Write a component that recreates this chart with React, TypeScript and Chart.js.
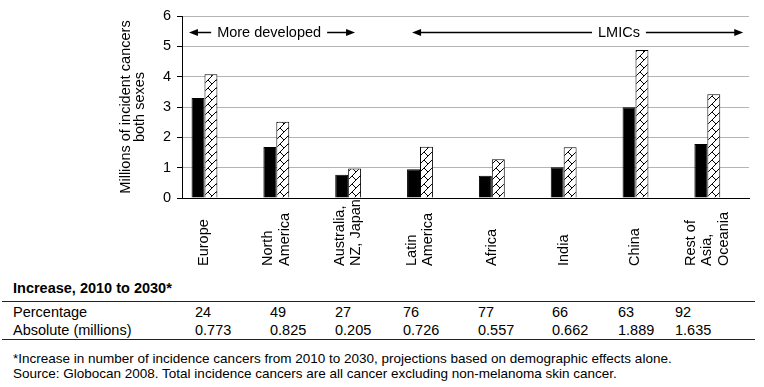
import React, { useEffect, useRef } from 'react';
import { Chart, registerables } from 'chart.js';

Chart.register(...registerables);

// ---- data ----
const categories: string[][] = [
  ['Europe'],
  ['North', 'America'],
  ['Australia,', 'NZ, Japan'],
  ['Latin', 'America'],
  ['Africa'],
  ['India'],
  ['China'],
  ['Rest of', 'Asia,', 'Oceania'],
];
const values2010 = [3.3, 1.68, 0.77, 0.95, 0.73, 1.01, 2.99, 1.78];
const values2030 = [4.08, 2.51, 0.97, 1.69, 1.28, 1.67, 4.88, 3.42];
const yTicks = [0, 1, 2, 3, 4, 5, 6];
const percentageRow = ['24', '49', '27', '76', '77', '66', '63', '92'];
const absoluteRow = ['0.773', '0.825', '0.205', '0.726', '0.557', '0.662', '1.889', '1.635'];
const yTitle = ['Millions of incident cancers', 'both sexes'];
const tableTitle = 'Increase, 2010 to 2030*';
const rowLabels = ['Percentage', 'Absolute (millions)'];
const footnotes = [
  '*Increase in number of incidence cancers from 2010 to 2030, projections based on demographic effects alone.',
  'Source: Globocan 2008. Total incidence cancers are all cancer excluding non-melanoma skin cancer.',
];
const groupSpans = [
  { label: 'More developed', from: -0.216, to: 2.096, labelAt: 0.9 },
  { label: 'LMICs', from: 2.89, to: 7.5, labelAt: 5.77 },
];
const spanLevel = 5.47;

// ---- layout ----
const FONT = '"Liberation Sans", Arial, Helvetica, sans-serif';
const CANVAS_W = 764;
const CANVAS_H = 280;
const colLefts = [195, 270, 335, 403, 478, 552, 618, 675];

function makeHatch(ctx: CanvasRenderingContext2D) {
  const c = document.createElement('canvas');
  c.width = 8;
  c.height = 8;
  const g = c.getContext('2d')!;
  g.fillStyle = '#fff';
  g.fillRect(0, 0, 8, 8);
  g.strokeStyle = '#000';
  g.lineWidth = 1;
  g.beginPath();
  g.moveTo(-1, 9);
  g.lineTo(9, -1);
  g.moveTo(0, 0);
  g.lineTo(4, 4);
  g.stroke();
  return ctx.createPattern(c, 'repeat')!;
}

const overlayPlugin = {
  id: 'overlay',
  afterDatasetsDraw(chart: any) {
    const { ctx, scales } = chart;
    const x = scales.x;
    const y = scales.y;
    ctx.save();
    ctx.fillStyle = '#000';
    ctx.strokeStyle = '#000';
    ctx.font = `14.5px ${FONT}`;
    // category labels (rotated, reading upward, bottom aligned)
    const baseY = y.bottom + 68;
    categories.forEach((lines, i) => {
      const cx = x.getPixelForValue(i);
      lines.forEach((line, j) => {
        const lx = cx + (j - (lines.length - 1) / 2) * 16.5;
        ctx.save();
        ctx.translate(lx, baseY);
        ctx.rotate(-Math.PI / 2);
        ctx.textAlign = 'left';
        ctx.textBaseline = 'middle';
        ctx.fillText(line, 0, 0);
        ctx.restore();
      });
    });
    // group span arrows
    const py = Math.round(y.getPixelForValue(spanLevel)) + 0.5;
    ctx.lineWidth = 1.3;
    groupSpans.forEach((s) => {
      const x1 = x.getPixelForValue(s.from);
      const x2 = x.getPixelForValue(s.to);
      const tx = x.getPixelForValue(s.labelAt);
      const w = ctx.measureText(s.label).width;
      const gap = 6;
      ctx.beginPath();
      ctx.moveTo(x1 + 4, py);
      ctx.lineTo(tx - w / 2 - gap, py);
      ctx.moveTo(tx + w / 2 + gap, py);
      ctx.lineTo(x2 - 4, py);
      ctx.stroke();
      ctx.beginPath();
      ctx.moveTo(x1, py);
      ctx.lineTo(x1 + 9, py - 3.5);
      ctx.lineTo(x1 + 9, py + 3.5);
      ctx.closePath();
      ctx.fill();
      ctx.beginPath();
      ctx.moveTo(x2, py);
      ctx.lineTo(x2 - 9, py - 3.5);
      ctx.lineTo(x2 - 9, py + 3.5);
      ctx.closePath();
      ctx.fill();
      ctx.textAlign = 'center';
      ctx.textBaseline = 'middle';
      ctx.fillText(s.label, tx, py);
    });
    ctx.restore();
  },
};

export default function App() {
  const ref = useRef<HTMLCanvasElement | null>(null);

  useEffect(() => {
    const canvas = ref.current!;
    const ctx = canvas.getContext('2d')!;
    const hatch = makeHatch(ctx);
    const chart = new Chart(canvas, {
      type: 'bar',
      data: {
        datasets: [
          {
            label: '2010',
            data: values2010.map((v, i) => ({ x: i, y: v })),
            backgroundColor: '#000',
            borderColor: '#000',
            borderWidth: 1,
            categoryPercentage: 0.36,
            barPercentage: 1.0,
          },
          {
            label: '2030',
            data: values2030.map((v, i) => ({ x: i, y: v })),
            backgroundColor: hatch,
            borderColor: '#000',
            borderWidth: 1,
            categoryPercentage: 0.36,
            barPercentage: 1.0,
          },
        ],
      } as any,
      options: {
        animation: false,
        responsive: false,
        maintainAspectRatio: false,
        layout: { padding: { left: 0, right: 15, top: 16, bottom: 0 } },
        plugins: { legend: { display: false }, tooltip: { enabled: false } },
        scales: {
          x: {
            type: 'linear',
            offset: false,
            min: -0.313,
            max: 7.58,
            grid: { display: false },
            border: { display: true, color: '#000', width: 1 },
            ticks: { display: false },
            afterFit: (s: any) => {
              s.height = CANVAS_H - 198;
            },
          },
          y: {
            min: 0,
            max: 6,
            afterBuildTicks: (s: any) => {
              s.ticks = yTicks.map((v) => ({ value: v }));
            },
            ticks: { color: '#000', font: { size: 14.5, family: FONT }, padding: 6 },
            grid: {
              color: (c: any) => (c.tick && c.tick.value === 0 ? '#000' : '#b4b4b4'),
              tickColor: '#000',
              tickLength: 5,
              lineWidth: 1,
            },
            border: { color: '#000', width: 1 },
            title: {
              display: true,
              text: yTitle,
              color: '#000',
              font: { size: 14.5, family: FONT, lineHeight: 0.92 },
              padding: { top: 119.5, bottom: 0 },
            },
            afterFit: (s: any) => {
              s.width = 182;
            },
          },
        },
      } as any,
      plugins: [overlayPlugin],
    });
    return () => chart.destroy();
  }, []);

  const textStyle: React.CSSProperties = {
    position: 'absolute',
    fontFamily: FONT,
    fontSize: '14.5px',
    lineHeight: '17px',
    color: '#000',
    whiteSpace: 'nowrap',
  };

  return (
    <div style={{ position: 'absolute', left: 0, top: 0, width: CANVAS_W, height: 387, background: '#fff', overflow: 'hidden' }}>
      <canvas ref={ref} width={CANVAS_W} height={CANVAS_H} style={{ position: 'absolute', left: 0, top: 0, width: CANVAS_W, height: CANVAS_H }} />
      <div style={{ ...textStyle, left: 13, top: 288 - 8.5, fontWeight: 'bold' }}>{tableTitle}</div>
      <div style={{ position: 'absolute', left: 2, width: 753, top: 301, height: 0, borderTop: '1.5px solid #222' }} />
      <div style={{ ...textStyle, left: 13, top: 312 - 8.5 }}>{rowLabels[0]}</div>
      <div style={{ ...textStyle, left: 13, top: 330 - 8.5 }}>{rowLabels[1]}</div>
      {percentageRow.map((v, i) => (
        <div key={'p' + i} style={{ ...textStyle, left: colLefts[i], top: 312 - 8.5 }}>{v}</div>
      ))}
      {absoluteRow.map((v, i) => (
        <div key={'a' + i} style={{ ...textStyle, left: colLefts[i], top: 330 - 8.5 }}>{v}</div>
      ))}
      <div style={{ position: 'absolute', left: 2, width: 753, top: 338.5, height: 0, borderTop: '1.5px solid #222' }} />
      {footnotes.map((t, i) => (
        <div key={'f' + i} style={{ ...textStyle, fontSize: '13.5px', left: 13, top: 358 + i * 15 - 8.5 }}>{t}</div>
      ))}
    </div>
  );
}
